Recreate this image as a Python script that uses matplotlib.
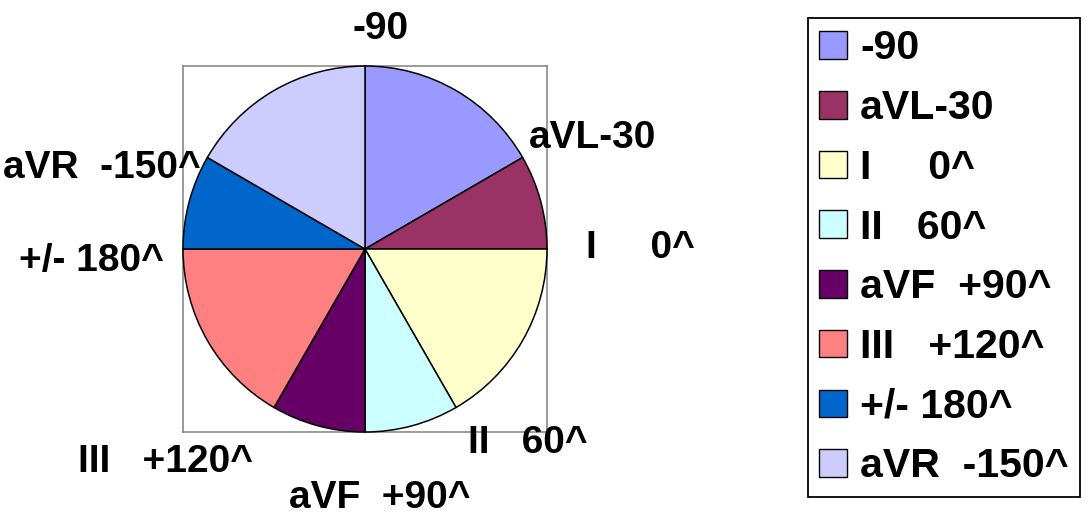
import matplotlib
matplotlib.use("Agg")
import matplotlib.pyplot as plt
from matplotlib.patches import Patch

plt.rcParams['font.family'] = ['Liberation Sans', 'DejaVu Sans']
plt.rcParams['font.weight'] = 'bold'

# Hexaxial reference system: leads and their angles
leads = ["-90", "aVL-30", "I     0^", "II   60^", "aVF  +90^",
         "III   +120^", "+/- 180^", "aVR  -150^"]
sector_sizes = [2, 1, 2, 1, 1, 2, 1, 2]
colors = ["#9999FF", "#993366", "#FFFFCC", "#CCFFFF", "#660066",
          "#FF8080", "#0066CC", "#CCCCFF"]

# label anchor points (figure pixels, from top-left)
label_xy = [(381, 29), (593, 138), (640, 248), (528, 443),
            (380, 498), (165, 462), (91, 261), (102, 168)]

W, H = 1088, 528
fig = plt.figure(figsize=(W / 100, H / 100), dpi=100)

ax = fig.add_axes([183 / W, (H - 432) / H, 364 / W, 366 / H])
wedges, _ = ax.pie(sector_sizes, colors=colors, startangle=90,
                   counterclock=False, radius=1,
                   wedgeprops=dict(edgecolor="black", linewidth=1.1))
ax.set_xlim(-1, 1)
ax.set_ylim(-1, 1)
ax.set_aspect("auto")
ax.set_frame_on(True)
ax.set_xticks([])
ax.set_yticks([])
for s in ax.spines.values():
    s.set_visible(True)
    s.set_color("#808080")
    s.set_linewidth(1.1)
    s.set_zorder(0)

for text, (px, py) in zip(leads, label_xy):
    fig.text(px / W, 1 - py / H, text, ha="center", va="center",
             fontsize=28, fontweight="bold", color="black")

handles = [Patch(facecolor=c, edgecolor="black", linewidth=1.0) for c in colors]
leg = fig.legend(handles, leads, loc="upper left",
                 bbox_to_anchor=(808 / W, 1 - 18 / H),
                 bbox_transform=fig.transFigure, borderaxespad=0,
                 prop=dict(weight="bold", size=29.5),
                 handlelength=0.66, handleheight=0.66, handletextpad=0.33,
                 labelspacing=0.53, borderpad=0.28, fancybox=False,
                 frameon=True, edgecolor="black", framealpha=1)
leg.get_frame().set_linewidth(1.3)

fig.savefig("out.png", dpi=100)
